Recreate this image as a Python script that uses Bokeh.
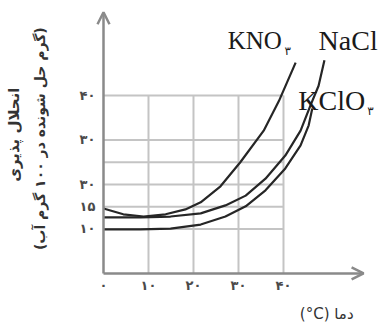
import math
from bokeh.plotting import figure
from bokeh.models import Range1d, Label, Arrow, OpenHead
from bokeh.core.properties import value
from bokeh.embed import file_html
from bokeh.resources import INLINE

# Temperature (°C) and solubility (g per 100 g water)
kno3_t = [0, 4.4, 8.9, 13.8, 18.2, 21.6, 26.0, 30.4, 35.6, 39.0, 42.7]
kno3_s = [14.6, 13.3, 12.8, 13.3, 14.4, 16.0, 19.6, 25.0, 32.1, 38.8, 47.4]

nacl_t = [0, 8.2, 14.9, 21.6, 27.1, 31.6, 36.0, 40.4, 43.8, 46.0, 47.8, 49.1]
nacl_s = [12.6, 12.6, 12.8, 13.5, 15.3, 17.5, 21.3, 26.5, 32.1, 37.8, 42.2, 47.9]

kclo3_t = [0, 8.2, 14.9, 21.6, 27.1, 31.6, 36.0, 40.4, 43.8, 45.6, 46.4]
kclo3_s = [9.9, 9.9, 10.1, 11.0, 12.8, 15.1, 18.7, 23.6, 28.8, 33.3, 37.1]

# Grid lines and tick labels
grid_y = [10, 15, 20, 25, 30, 40]
grid_x = [10, 20, 30, 40]
y_ticks = [10, 15, 20, 30, 40]
y_tick_labels = ["۱۰", "۱۵", "۳۰", "۳۰", "۴۰"]
x_ticks = [0, 10, 20, 30, 40]
x_tick_labels = ["۰", "۱۰", "۲۰", "۳۰", "۴۰"]

AXIS = "#8a8a8a"
GRID = "#c4c4c4"
INK = "#262626"
TXT = "#333333"

# The frame fills the whole canvas; the axes are drawn inside it at 0
p = figure(width=381, height=325, output_backend="svg", toolbar_location=None,
           title=None, x_range=Range1d(-22.89, 61.78), y_range=Range1d(-11.69, 61.35),
           min_border=0)
p.outline_line_color = None
p.axis.visible = False
p.xgrid.visible = False
p.ygrid.visible = False

# Grid box limited to 0..40 on both axes
p.segment(x0=[0] * len(grid_y), y0=grid_y, x1=[40] * len(grid_y), y1=grid_y,
          line_color=GRID, line_width=2)
p.segment(x0=grid_x, y0=[0] * len(grid_x), x1=grid_x, y1=[40] * len(grid_x),
          line_color=GRID, line_width=2)

# Solubility curves
for xs, ys in ((kno3_t, kno3_s), (nacl_t, nacl_s), (kclo3_t, kclo3_s)):
    p.line(xs, ys, line_color=INK, line_width=2.2, line_join="round")

# Axes with open arrow heads
p.add_layout(Arrow(x_start=0, y_start=0, x_end=57.8, y_end=0,
                   line_color=AXIS, line_width=2.5,
                   end=OpenHead(size=12, line_color=AXIS, line_width=2.5)))
p.add_layout(Arrow(x_start=0, y_start=0, x_end=0, y_end=58.7,
                   line_color=AXIS, line_width=2.5,
                   end=OpenHead(size=12, line_color=AXIS, line_width=2.5)))

# Tick labels
p.text(x=[-1.8] * len(y_ticks), y=y_ticks, text=y_tick_labels,
       text_font=value("DejaVu Sans"), text_font_style="bold",
       text_font_size="13px", text_color="#4a4a4a",
       text_align="right", text_baseline="middle")
p.text(x=x_ticks, y=[-2.7] * len(x_ticks), text=x_tick_labels,
       text_font=value("DejaVu Sans"), text_font_style="bold",
       text_font_size="13px", text_color="#4a4a4a",
       text_align="center", text_baseline="middle")

# Curve names
def formula(x, y, main, size, sub, sub_dx):
    p.add_layout(Label(x=x, y=y, text=main, text_font="Liberation Serif",
                       text_font_size=size, text_color="#1a1a1a",
                       text_baseline="alphabetic", text_align="left"))
    if sub:
        p.add_layout(Label(x=x + sub_dx, y=y - 2.4, text=sub, text_font="DejaVu Sans",
                           text_font_size="12px", text_color="#1a1a1a",
                           text_baseline="alphabetic", text_align="left"))

formula(27.6, 52.3, "KNO", "25px", "۳", 12.6)
formula(47.8, 52.3, "NaCl", "28px", "", 0)
formula(43.3, 38.9, "KClO", "28px", "۳", 15.3)

# Axis titles
p.add_layout(Label(x=-20.0, y=31.2, text="انحلال پذیری", angle=math.pi / 2,
                   text_font="DejaVu Sans", text_font_style="bold",
                   text_font_size="15px", text_color=TXT,
                   text_align="center", text_baseline="middle"))
p.add_layout(Label(x=-14.2, y=30.3, text="(گرم حل شونده در ۱۰۰ گرم آب)",
                   angle=math.pi / 2, text_font="DejaVu Sans",
                   text_font_style="bold", text_font_size="14px",
                   text_color=TXT, text_align="center",
                   text_baseline="middle"))
p.add_layout(Label(x=49.6, y=-9.0, text="(°C) دما", text_font="DejaVu Sans",
                   text_font_size="15px", text_color=TXT,
                   text_align="center", text_baseline="middle"))

open("out.html", "w").write(file_html(p, INLINE))
